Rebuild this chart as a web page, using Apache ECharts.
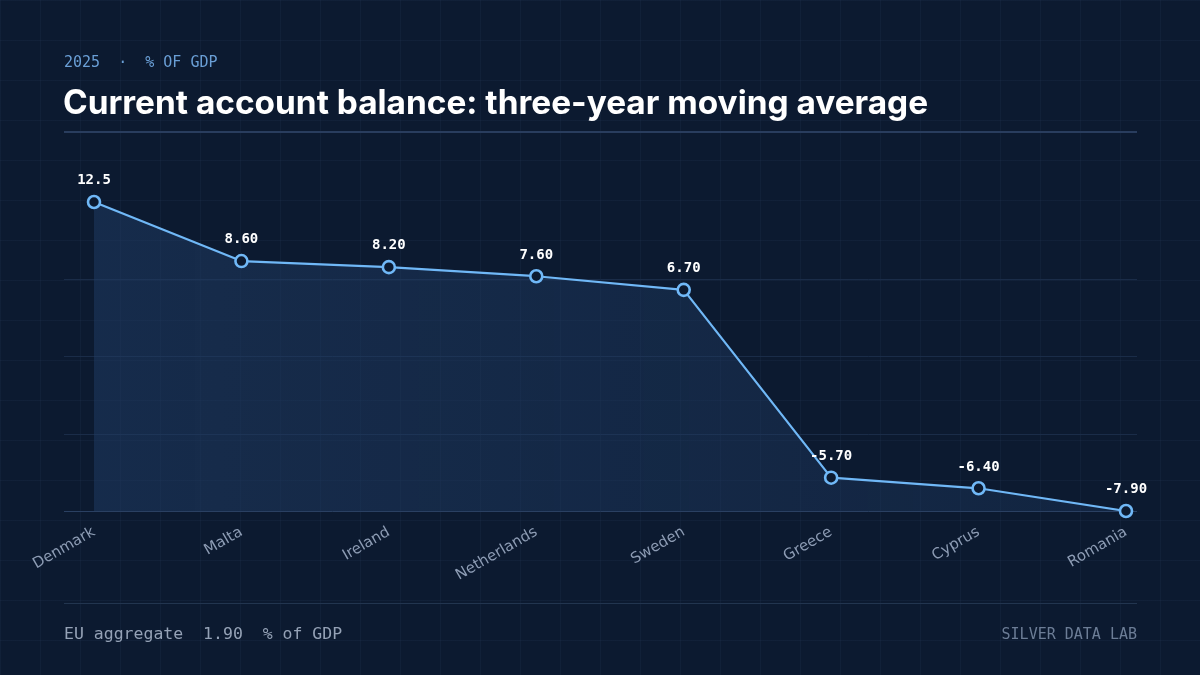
<!DOCTYPE html>
<html>
<head>
<meta charset="utf-8">
<title>Current account balance</title>
<script src="https://cdn.jsdelivr.net/npm/echarts@6/dist/echarts.min.js"></script>
<style>
  html, body { margin: 0; padding: 0; background: #0c1a30; }
  #chart {
    width: 1200px;
    height: 675px;
    background-color: #0c1a30;
    background-image:
      linear-gradient(rgba(120, 150, 200, 0.05) 1px, transparent 1px),
      linear-gradient(90deg, rgba(120, 150, 200, 0.05) 1px, transparent 1px);
    background-size: 40px 40px;
  }
</style>
</head>
<body>
<div id="chart"></div>
<script>
// data
const countries = ['Denmark', 'Malta', 'Ireland', 'Netherlands', 'Sweden', 'Greece', 'Cyprus', 'Romania'];
const balance = [12.5, 8.6, 8.2, 7.6, 6.7, -5.7, -6.4, -7.9];
const euAggregate = 1.9;

// value axis runs from the lowest to the highest point, four equal steps
const yMin = Math.min(...balance);
const yMax = Math.max(...balance);
const yStep = (yMax - yMin) / 4;

const LINE = '#70b8f7';
const BG = '#0c1a30';
const MONO = '"DejaVu Sans Mono", "Liberation Mono", monospace';
const SANS = 'Inter, Roboto, "Noto Sans", sans-serif';

const chart = echarts.init(document.getElementById('chart'), null, { renderer: 'canvas' });

const option = {
  backgroundColor: 'transparent',
  animation: false,
  grid: [
    // wide grid, only for the horizontal guide lines
    { left: 64, right: 63, top: 202, bottom: 164 },
    // data grid
    { left: 94, right: 74, top: 202, bottom: 164 },
  ],
  xAxis: [
    { gridIndex: 0, type: 'value', min: 0, max: 1, show: false },
    {
      gridIndex: 1,
      type: 'category',
      data: countries,
      boundaryGap: false,
      axisLine: { show: false },
      axisTick: { show: false },
      splitLine: { show: false },
      axisLabel: {
        interval: 0,
        rotate: 30,
        margin: 20,
        color: '#8d9cb4',
        fontFamily: '"DejaVu Sans", sans-serif',
        fontSize: 15,
      },
    },
  ],
  yAxis: [
    {
      gridIndex: 0,
      type: 'value',
      min: yMin,
      max: yMax,
      interval: yStep,
      axisLine: { show: false },
      axisTick: { show: false },
      axisLabel: { show: false },
      splitLine: {
        show: true,
        showMinLine: true,
        showMaxLine: false,
        lineStyle: {
          color: ['#2a4062', '#1a2c48', '#1a2c48', '#1a2c48', '#1a2c48'],
          width: 1,
        },
      },
    },
    {
      gridIndex: 1,
      type: 'value',
      min: yMin,
      max: yMax,
      interval: yStep,
      show: false,
      splitLine: { show: false },
    },
  ],
  series: [
    {
      type: 'line',
      xAxisIndex: 1,
      yAxisIndex: 1,
      data: balance,
      symbol: 'circle',
      symbolSize: 12,
      showAllSymbol: true,
      z: 3,
      lineStyle: { color: LINE, width: 2.2 },
      itemStyle: { color: BG, borderColor: LINE, borderWidth: 2.6 },
      areaStyle: {
        origin: 'start',
        opacity: 1,
        color: new echarts.graphic.LinearGradient(0, 0, 1, 0, [
          { offset: 0, color: 'rgba(32, 60, 100, 0.52)' },
          { offset: 1, color: 'rgba(32, 60, 100, 0.34)' },
        ]),
      },
      label: {
        show: true,
        position: 'top',
        distance: 7,
        color: '#ffffff',
        fontFamily: MONO,
        fontWeight: 'bold',
        fontSize: 14,
        formatter: (p) => p.value.toPrecision(3),
      },
    },
  ],
  graphic: [
    {
      type: 'text',
      x: 64,
      y: 63,
      style: {
        text: '2025  ·  % OF GDP',
        fill: '#6a9fd6',
        font: '15px ' + MONO,
        verticalAlign: 'middle',
      },
    },
    {
      type: 'text',
      x: 63,
      y: 104,
      style: {
        text: 'Current account balance: three-year moving average',
        fill: '#ffffff',
        font: 'bold 33.4px ' + SANS,
        verticalAlign: 'middle',
      },
    },
    {
      type: 'rect',
      shape: { x: 64, y: 131, width: 1073, height: 2 },
      style: { fill: '#293d5e' },
    },
    {
      type: 'rect',
      shape: { x: 64, y: 603, width: 1073, height: 1 },
      style: { fill: '#22354f' },
    },
    {
      type: 'text',
      x: 64,
      y: 635,
      style: {
        text: 'EU aggregate  ' + euAggregate.toFixed(2) + '  % of GDP',
        fill: '#95a2b6',
        font: '16.5px ' + MONO,
        verticalAlign: 'middle',
      },
    },
    {
      type: 'text',
      x: 1137,
      y: 635,
      style: {
        text: 'SILVER DATA LAB',
        fill: '#6c7d96',
        font: '15px ' + MONO,
        align: 'right',
        verticalAlign: 'middle',
      },
    },
  ],
};

chart.setOption(option);
</script>
</body>
</html>
